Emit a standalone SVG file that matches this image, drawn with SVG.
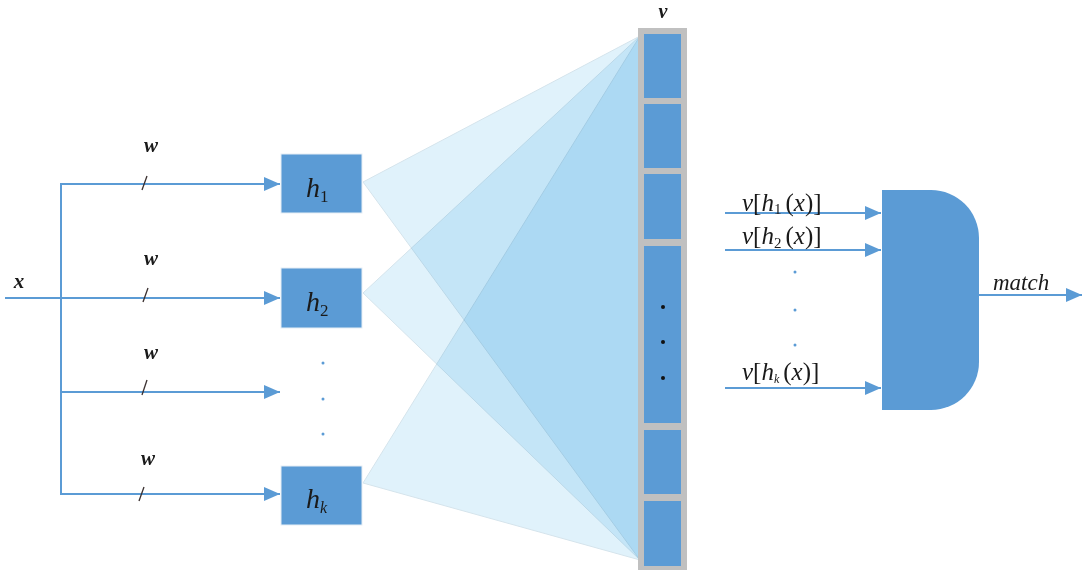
<svg xmlns="http://www.w3.org/2000/svg" width="1084" height="575" viewBox="0 0 1084 575">
<defs>
<style>
.ln{stroke:#5B9BD5;stroke-width:2;fill:none}
.box{fill:#5B9BD5;stroke:#E6EEF5;stroke-width:1}
.tri{fill:#E0F2FB;stroke:#D5E4EC;stroke-width:1;mix-blend-mode:multiply}
.cell{fill:#5B9BD5}
.t{font-family:"Liberation Serif",serif;font-style:italic;fill:#1a1a1a}
.u{font-family:"Liberation Serif",serif;fill:#1a1a1a}
.dot{fill:#5B9BD5}
.sl{stroke:#3a3030;stroke-width:1.3}
</style>
<marker id="ah" viewBox="0 0 16 14" refX="16" refY="7" markerWidth="16" markerHeight="14" markerUnits="userSpaceOnUse" orient="auto">
<path d="M0,0 L16,7 L0,14 Z" fill="#5B9BD5"/>
</marker>
</defs>
<rect width="1084" height="575" fill="#fff"/>
<g id="fan" style="isolation:isolate">
<polygon class="tri" points="363,182 640,36 640,560"/>
<polygon class="tri" points="363,293 640,36 640,560"/>
<polygon class="tri" points="363,483 640,36 640,560"/>
</g>
<g id="connectors">
<line class="ln" x1="5" y1="298" x2="280" y2="298" marker-end="url(#ah)"/>
<line class="ln" x1="61" y1="183" x2="61" y2="495"/>
<line class="ln" x1="60" y1="184" x2="280" y2="184" marker-end="url(#ah)"/>
<line class="ln" x1="60" y1="392" x2="280" y2="392" marker-end="url(#ah)"/>
<line class="ln" x1="60" y1="494" x2="280" y2="494" marker-end="url(#ah)"/>
<line class="ln" x1="725" y1="213" x2="881" y2="213" marker-end="url(#ah)"/>
<line class="ln" x1="725" y1="250" x2="881" y2="250" marker-end="url(#ah)"/>
<line class="ln" x1="725" y1="388" x2="881" y2="388" marker-end="url(#ah)"/>
<line class="ln" x1="979" y1="295" x2="1082" y2="295" marker-end="url(#ah)"/>
<line class="sl" x1="147" y1="176" x2="142" y2="190"/>
<line class="sl" x1="148" y1="288" x2="143" y2="302"/>
<line class="sl" x1="147" y1="380" x2="142" y2="395"/>
<line class="sl" x1="144" y1="487" x2="139" y2="501"/>
<text class="t" x="151" y="152" font-size="21" font-weight="bold" text-anchor="middle">w</text>
<text class="t" x="151" y="265" font-size="21" font-weight="bold" text-anchor="middle">w</text>
<text class="t" x="151" y="359" font-size="21" font-weight="bold" text-anchor="middle">w</text>
<text class="t" x="148" y="465" font-size="21" font-weight="bold" text-anchor="middle">w</text>
<text class="t" x="19" y="288" font-size="21" font-weight="bold" text-anchor="middle">x</text>
</g>
<g id="h1">
<rect class="box" x="281" y="154" width="81" height="59"/>
<text class="t" x="306" y="197" font-size="28">h<tspan class="u" font-style="normal" font-size="17" dy="5">1</tspan></text>
</g>
<g id="h2">
<rect class="box" x="281" y="268" width="81" height="60"/>
<text class="t" x="306" y="311" font-size="28">h<tspan class="u" font-style="normal" font-size="17" dy="5">2</tspan></text>
</g>
<g id="hdots">
<circle class="dot" cx="323" cy="363" r="1.5"/>
<circle class="dot" cx="323" cy="399" r="1.5"/>
<circle class="dot" cx="323" cy="434" r="1.5"/>
</g>
<g id="hk">
<rect class="box" x="281" y="466" width="81" height="59"/>
<text class="t" x="306" y="508" font-size="28">h<tspan font-size="16" dy="5">k</tspan></text>
</g>
<g id="v">
<rect x="638" y="28" width="49" height="542" fill="#C0C0C0"/>
<rect class="cell" x="644" y="34" width="37" height="64"/>
<rect class="cell" x="644" y="104" width="37" height="64"/>
<rect class="cell" x="644" y="174" width="37" height="65"/>
<rect class="cell" x="644" y="246" width="37" height="177"/>
<rect class="cell" x="644" y="430" width="37" height="64"/>
<rect class="cell" x="644" y="501" width="37" height="65"/>
<circle cx="663" cy="307" r="2" fill="#111"/>
<circle cx="663" cy="342" r="2" fill="#111"/>
<circle cx="663" cy="378" r="2" fill="#111"/>
<text class="t" x="663" y="18" font-size="20" font-weight="bold" text-anchor="middle">v</text>
</g>
<g id="gate">
<path d="M882,190 H931 A48,48 0 0 1 979,238 V362 A48,48 0 0 1 931,410 H882 Z" fill="#5B9BD5"/>
</g>
<g id="gate-labels">
<text class="u" x="742" y="211" font-size="25"><tspan class="t">v</tspan>[<tspan class="t">h</tspan><tspan font-size="15" dy="3">1</tspan><tspan dx="4" dy="-3">(</tspan><tspan class="t">x</tspan>)]</text>
<text class="u" x="742" y="244" font-size="25"><tspan class="t">v</tspan>[<tspan class="t">h</tspan><tspan font-size="15" dy="4">2</tspan><tspan dx="4" dy="-4">(</tspan><tspan class="t">x</tspan>)]</text>
<text class="u" x="742" y="380" font-size="25"><tspan class="t">v</tspan>[<tspan class="t">h</tspan><tspan class="t" font-size="12" dy="3">k</tspan><tspan dx="4" dy="-3">(</tspan><tspan class="t">x</tspan>)]</text>
<circle class="dot" cx="795" cy="272" r="1.5"/>
<circle class="dot" cx="795" cy="310" r="1.5"/>
<circle class="dot" cx="795" cy="345" r="1.5"/>
<text class="t" x="993" y="290" font-size="23">match</text>
</g>
</svg>
